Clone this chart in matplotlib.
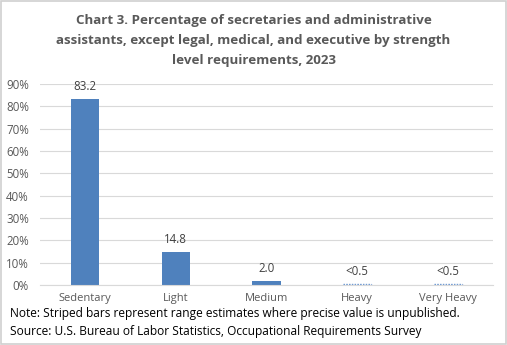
import matplotlib.pyplot as plt
from matplotlib.patches import Rectangle

categories = ['Sedentary', 'Light', 'Medium', 'Heavy', 'Very Heavy']
values = [83.2, 14.8, 2.0, 0.5, 0.5]
labels = ['83.2', '14.8', '2.0', '<0.5', '<0.5']
striped = [False, False, False, True, True]

plt.rcParams['font.family'] = ['Open Sans', 'DejaVu Sans']
gray = '#595959'
blue = '#4f81bd'

fig = plt.figure(figsize=(5.07, 3.45), dpi=100)
ax = fig.add_axes([40 / 507, 1 - 285 / 345, 453 / 507, 201 / 345])

x = range(len(categories))
for i in x:
    if striped[i]:
        # range estimate: drawn as a dotted outline only
        ax.bar(i, values[i], width=0.31, fill=False, edgecolor='#6f9ad3',
               linestyle=(0, (1, 1)), linewidth=1.0)
    else:
        ax.bar(i, values[i], width=0.31, color=blue)
    ax.annotate(labels[i], (i, values[i]), xytext=(0, 9), textcoords='offset points',
                ha='center', va='center', fontsize=8.3, color='#404040')

ax.set_ylim(0, 90)
ax.set_xlim(-0.5, 4.5)
ax.set_yticks(range(0, 91, 10))
ax.set_yticklabels([f'{v}%' for v in range(0, 91, 10)])
ax.set_xticks(list(x))
ax.set_xticklabels(categories)
ax.tick_params(length=0, labelsize=8.3, colors=gray)
ax.tick_params(axis='y', pad=8)
ax.tick_params(axis='x', pad=6, labelsize=8)
ax.grid(axis='y', color='#d9d9d9', linewidth=0.8)
ax.set_axisbelow(True)
for s in ['top', 'right', 'left']:
    ax.spines[s].set_visible(False)
ax.spines['bottom'].set_color('#d9d9d9')

title_lines = ['Chart 3. Percentage of secretaries and administrative',
               'assistants, except legal, medical, and executive by strength',
               'level requirements, 2023']
for k, line in enumerate(title_lines):
    fig.text(0.5, 1 - (20.5 + 20 * k) / 345, line, ha='center', va='center',
             fontsize=9.6, fontweight='bold', color=gray)

fig.text(10 / 507, 1 - 314 / 345,
         'Note: Striped bars represent range estimates where precise value is unpublished.',
         ha='left', va='center', fontsize=8.6, color='black')
fig.text(10 / 507, 1 - 332 / 345,
         'Source: U.S. Bureau of Labor Statistics, Occupational Requirements Survey',
         ha='left', va='center', fontsize=8.6, color='black')

fig.patches.append(Rectangle((0.002, 0.003), 0.996, 0.994, transform=fig.transFigure,
                             fill=False, edgecolor='#d0d0d0', linewidth=1.2))

fig.savefig('out.png', dpi=100)
